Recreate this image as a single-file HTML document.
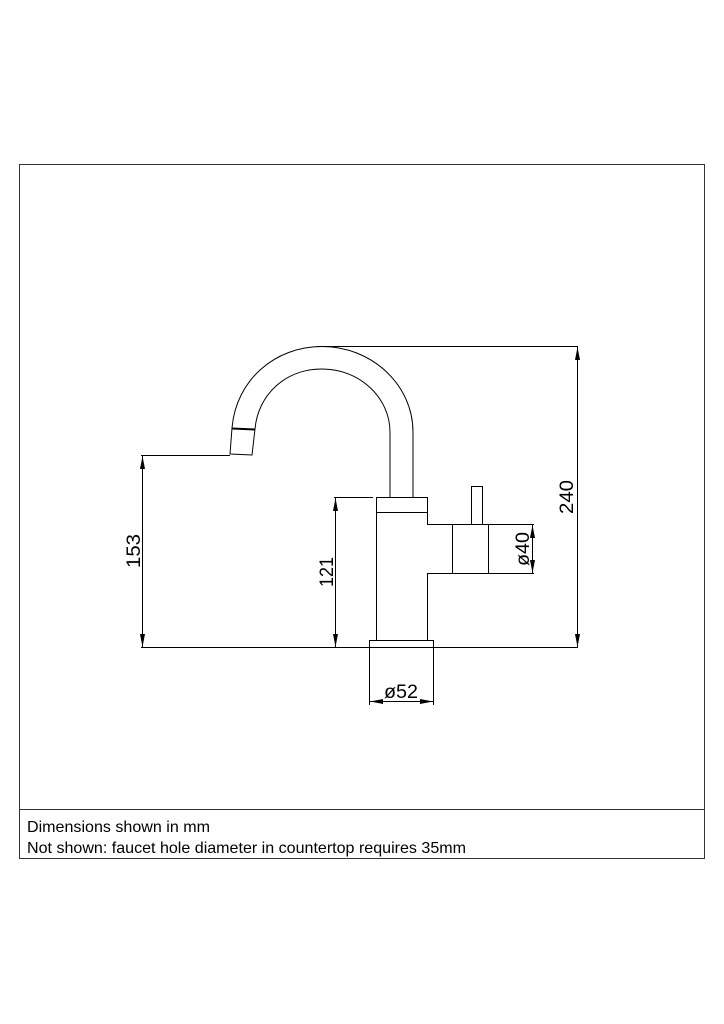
<!DOCTYPE html>
<html><head><meta charset="utf-8"><style>
html,body{margin:0;padding:0;background:#fff;}
svg{display:block}
</style></head><body>
<svg width="724" height="1024" viewBox="0 0 724 1024" xmlns="http://www.w3.org/2000/svg">
<g fill="none" stroke="#333" stroke-width="1">
<rect x="19.5" y="164.5" width="685" height="694"/>
<line x1="19" y1="809.5" x2="704" y2="809.5"/>
</g>
<g fill="none" stroke="#000" stroke-width="1">
<path d="M232,428 C236,380 275,346.5 322,346.5 C372,346.5 413,385 413,432 L413,497"/>
<path d="M255,429 C258,395 285,369 322,369 C360,369 390,398 390,432 L390,497"/>
<path d="M232,428 L230,454 L252,455 L255,429"/>
<line x1="232" y1="428.5" x2="255" y2="429.5" stroke-width="2"/>
<rect x="376.5" y="497.5" width="51" height="15"/>
<line x1="376.5" y1="512" x2="376.5" y2="640"/>
<path d="M427.5,512 L427.5,524.5 L452.5,524.5"/>
<path d="M452.5,573.5 L427.5,573.5 L427.5,640"/>
<rect x="452.5" y="524.5" width="36" height="49"/>
<rect x="471.5" y="486.5" width="11" height="38"/>
<rect x="369.5" y="640.5" width="64" height="7"/>
<line x1="317" y1="346.5" x2="578" y2="346.5"/>
<line x1="577.5" y1="347" x2="577.5" y2="647"/>
<line x1="141" y1="647.5" x2="578" y2="647.5"/>
<line x1="141" y1="455.5" x2="230" y2="455.5"/>
<line x1="142.5" y1="456" x2="142.5" y2="647"/>
<line x1="334" y1="497.5" x2="373" y2="497.5"/>
<line x1="335.5" y1="498" x2="335.5" y2="647"/>
<line x1="488" y1="524.5" x2="534" y2="524.5"/>
<line x1="488" y1="573.5" x2="534" y2="573.5"/>
<line x1="532.5" y1="525" x2="532.5" y2="573"/>
<line x1="369.5" y1="648" x2="369.5" y2="705"/>
<line x1="433.5" y1="648" x2="433.5" y2="705"/>
<line x1="370" y1="701.5" x2="433" y2="701.5"/>
</g>
<g fill="#000">
<polygon points="577.5,347 575,360 580,360"/><polygon points="577.5,647 575,634 580,634"/>
<polygon points="142.5,456 140,469 145,469"/><polygon points="142.5,647 140,634 145,634"/>
<polygon points="335.5,498 333,511 338,511"/><polygon points="335.5,647 333,634 338,634"/>
<polygon points="532.5,525 530,538 535,538"/><polygon points="532.5,573 530,560 535,560"/>
<polygon points="370,701.5 383,699 383,704"/><polygon points="433,701.5 420,699 420,704"/>
</g>
<g font-family="Liberation Sans, sans-serif" font-size="19" fill="#000" text-anchor="middle">
<text transform="translate(573,497) rotate(-90)" textLength="34" lengthAdjust="spacingAndGlyphs">240</text>
<text transform="translate(140,551) rotate(-90)" textLength="34" lengthAdjust="spacingAndGlyphs">153</text>
<text transform="translate(333,572) rotate(-90)" textLength="30" lengthAdjust="spacingAndGlyphs">121</text>
<text transform="translate(529,549) rotate(-90)" textLength="34" lengthAdjust="spacingAndGlyphs">ø40</text>
<text x="401" y="698" textLength="34" lengthAdjust="spacingAndGlyphs">ø52</text>
</g>
<g font-family="Liberation Sans, sans-serif" font-size="16" fill="#000">
<text x="27" y="832" textLength="183" lengthAdjust="spacingAndGlyphs">Dimensions shown in mm</text>
<text x="27" y="853" textLength="439" lengthAdjust="spacingAndGlyphs">Not shown: faucet hole diameter in countertop requires 35mm</text>
</g>
</svg>
</body></html>
